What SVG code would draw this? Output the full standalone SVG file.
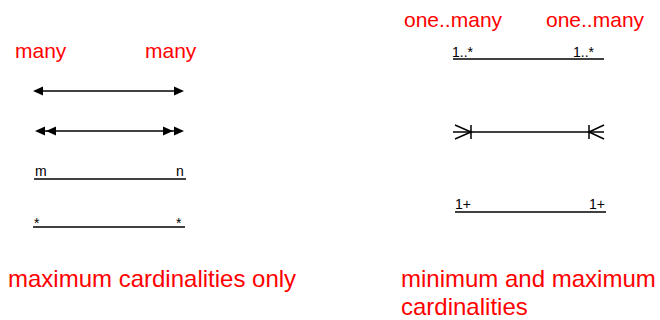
<svg xmlns="http://www.w3.org/2000/svg" width="660" height="320" viewBox="0 0 660 320">
<style>
.ln{stroke:#000;stroke-width:1.5;fill:none}
.hd{fill:#000;stroke:none}
.red{fill:#ff0000;font-family:"Liberation Sans",Arial,sans-serif}
.h{font-size:21px}
.b{font-size:24px}
.lb{fill:#000;font-family:"Liberation Sans",Arial,sans-serif;font-size:14px}
</style>
<defs>
<path id="ahR" d="M0,0 L-10,-4.5 L-10,4.5 Z"/>
<path id="ahL" d="M0,0 L10,-4.5 L10,4.5 Z"/>
</defs>
<rect width="660" height="320" fill="#fff"/>
<text class="red h" x="15" y="58">many</text>
<text class="red h" x="145" y="58">many</text>
<text class="red h" x="404" y="27">one..many</text>
<text class="red h" x="546" y="27">one..many</text>
<g id="arrows">
<g id="single-arrow">
<line class="ln" x1="38" y1="91" x2="180" y2="91"/>
<use href="#ahL" class="hd" x="33" y="91"/>
<use href="#ahR" class="hd" x="184" y="91"/>
</g>
<g id="double-arrow">
<line class="ln" x1="40" y1="131" x2="180" y2="131"/>
<use href="#ahL" class="hd" x="35" y="131"/>
<use href="#ahL" class="hd" x="46" y="131"/>
<use href="#ahR" class="hd" x="173" y="131"/>
<use href="#ahR" class="hd" x="184" y="131"/>
</g>
</g>
<g id="m-n">
<line class="ln" x1="34" y1="179" x2="186" y2="179"/>
<text class="lb" x="35" y="176">m</text>
<text class="lb" x="176" y="176">n</text>
</g>
<g id="star-star">
<line class="ln" x1="33" y1="227" x2="185" y2="227"/>
<text class="lb" x="34" y="228">*</text>
<text class="lb" x="176" y="228">*</text>
</g>
<g id="one-dot-star">
<line class="ln" x1="453" y1="59" x2="604" y2="59"/>
<text class="lb" x="452" y="57">1..*</text>
<text class="lb" x="573" y="57">1..*</text>
</g>
<g id="crowsfoot">
<line class="ln" x1="453" y1="132" x2="604" y2="132"/>
<path class="ln" d="M455,125 L471,132 L455,139 M471,125 L471,139"/>
<path class="ln" d="M604,125 L589,132 L604,139 M589,125 L589,139"/>
</g>
<g id="one-plus">
<line class="ln" x1="455" y1="212" x2="606" y2="212"/>
<text class="lb" x="455" y="209">1+</text>
<text class="lb" x="589" y="209">1+</text>
</g>
<text class="red b" x="8" y="287">maximum cardinalities only</text>
<text class="red b" x="401" y="287">minimum and maximum</text>
<text class="red b" x="401" y="315">cardinalities</text>
</svg>
